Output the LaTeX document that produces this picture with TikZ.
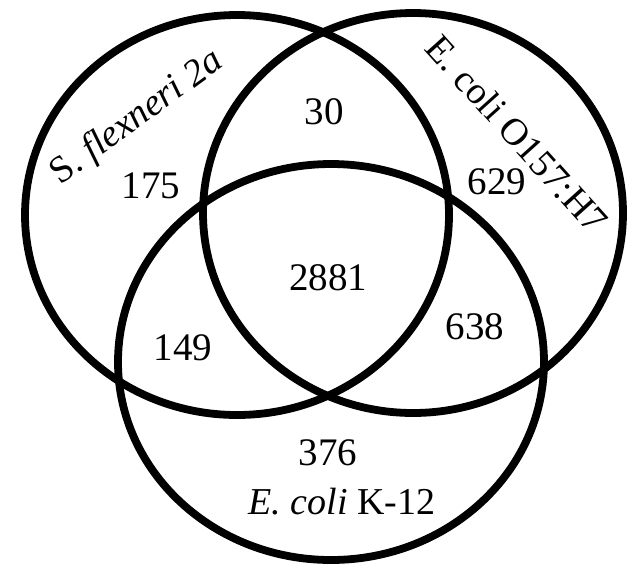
\documentclass[tikz,border=0pt]{standalone}
\usepackage{fontspec}
\setmainfont{Liberation Serif}
\begin{document}
\begin{tikzpicture}[x=1pt,y=-1pt,
  ring/.style={line width=7.8pt},
  num/.style={font=\fontsize{39}{40}\selectfont, inner sep=0pt},
  lab/.style={font=\fontsize{38}{40}\selectfont, inner sep=0pt}]
\useasboundingbox[fill=white] (0,0) rectangle (631,566);
\draw[ring] (237,215) ellipse [x radius=212, y radius=200];
\draw[ring] (413,213) ellipse [x radius=210, y radius=200];
\draw[ring] (331,362) ellipse [x radius=213, y radius=198];
\node[num] (n30) at (324,112) {30};
\node[num] (n175) at (151,186) {175};
\node[num] (n629) at (497,182) {629};
\node[num] (n2881) at (328,278) {2881};
\node[num] (n149) at (183,348) {149};
\node[num] (n638) at (475,327) {638};
\node[num] (n376) at (328,453) {376};
\node[lab] (k12) at (342,502) {\textit{E. coli} K-12};
\node[lab, rotate=36] (sf) at (137,118) {S.~\textit{flexneri 2a}};
\node[lab, rotate=-48] (o157) at (517,134) {E. coli O157:H7};
\end{tikzpicture}
\end{document}
